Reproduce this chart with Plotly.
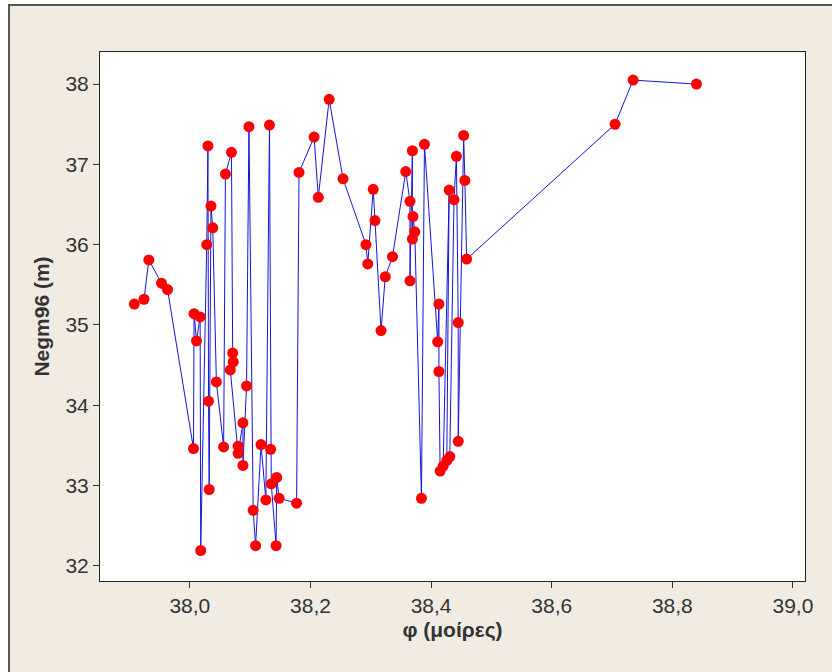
import plotly.graph_objects as go

# latitude (degrees) and Negm96 (m), in worksheet order
phi = [37.908, 37.924, 37.932, 37.953, 37.963,
       38.006, 38.007, 38.011, 38.017, 38.018,
       38.028, 38.030, 38.031, 38.032, 38.035, 38.038,
       38.044, 38.056, 38.059, 38.069, 38.071, 38.072, 38.067,
       38.080, 38.080, 38.088, 38.088, 38.094, 38.098,
       38.105, 38.109, 38.118, 38.126, 38.132, 38.134, 38.135,
       38.143, 38.144, 38.148, 38.177, 38.181, 38.206, 38.213,
       38.231, 38.254, 38.292, 38.295, 38.304, 38.307, 38.317,
       38.324, 38.336, 38.358, 38.365, 38.365, 38.369, 38.369,
       38.370, 38.373, 38.384, 38.389, 38.411, 38.413, 38.413,
       38.415, 38.420, 38.430, 38.426, 38.431, 38.438, 38.442,
       38.445, 38.445, 38.454, 38.456, 38.459,
       38.705, 38.735, 38.840]
negm96 = [35.26, 35.32, 35.81, 35.52, 35.44,
          33.46, 35.14, 34.80, 35.10, 32.19,
          36.00, 37.23, 34.05, 32.95, 36.48, 36.21,
          34.29, 33.48, 36.88, 37.15, 34.65, 34.54, 34.44,
          33.49, 33.40, 33.78, 33.25, 34.24, 37.47,
          32.69, 32.25, 33.51, 32.82, 37.49, 33.45, 33.02,
          32.25, 33.10, 32.84, 32.78, 36.90, 37.34, 36.59,
          37.81, 36.82, 36.00, 35.76, 36.69, 36.30, 34.93,
          35.60, 35.85, 36.91, 36.54, 35.55, 37.17, 36.07,
          36.35, 36.16, 32.84, 37.25, 34.79, 35.26, 34.42,
          33.18, 33.24, 36.68, 33.31, 33.36, 36.56, 37.10,
          35.03, 33.55, 37.36, 36.80, 35.82,
          37.50, 38.05, 38.00]

x_ticks = [38.0, 38.2, 38.4, 38.6, 38.8, 39.0]
y_ticks = [32, 33, 34, 35, 36, 37, 38]

BEIGE = "#f1ebe2"
TXT = "#333333"
FONT = "Liberation Sans"

PW, PH = 705, 529  # plot area size in px


def px_x(p):
    return (p - 100) / PW


def px_y(p):
    return (581 - p) / PH


fig = go.Figure()
fig.add_trace(go.Scatter(
    x=phi, y=negm96, mode="lines+markers",
    line=dict(color="#1414d8", width=1),
    marker=dict(color="#ff0000", size=11, line=dict(width=0)),
    showlegend=False,
))

shapes = [
    # white strips outside the window frame
    dict(type="rect", xref="paper", yref="paper",
         x0=px_x(-5), x1=px_x(8), y0=px_y(680), y1=px_y(-5),
         fillcolor="white", line=dict(width=0), layer="below"),
    dict(type="rect", xref="paper", yref="paper",
         x0=px_x(-5), x1=px_x(840), y0=px_y(4), y1=px_y(-5),
         fillcolor="white", line=dict(width=0), layer="below"),
    # window frame
    dict(type="rect", xref="paper", yref="paper",
         x0=px_x(9), x1=px_x(845), y0=px_y(690), y1=px_y(5),
         fillcolor="rgba(0,0,0,0)", line=dict(color="#555555", width=2),
         layer="below"),
]

fig.update_layout(
    width=832, height=672,
    margin=dict(l=100, r=27, t=52, b=91),
    paper_bgcolor=BEIGE,
    plot_bgcolor="white",
    separators=",.",
    font=dict(family=FONT, size=21, color=TXT),
    shapes=shapes,
    xaxis=dict(
        range=[37.851, 39.02],
        tickvals=x_ticks, tickformat=".1f",
        ticks="outside", ticklen=6, tickcolor="#333333", tickwidth=1,
        showline=True, linecolor="#222222", linewidth=1, mirror=True,
        showgrid=False, zeroline=False,
        title=dict(text="φ (μοίρες)", standoff=6,
                   font=dict(family=FONT, size=21, color=TXT, weight="bold")),
    ),
    yaxis=dict(
        range=[31.81, 38.40],
        tickvals=y_ticks, tickformat="d",
        ticks="outside", ticklen=6, tickcolor="#333333", tickwidth=1,
        showline=True, linecolor="#222222", linewidth=1, mirror=True,
        showgrid=False, zeroline=False,
        title=dict(text="Negm96 (m)", standoff=10,
                   font=dict(family=FONT, size=21, color=TXT, weight="bold")),
    ),
)

fig.write_html("out.html")
